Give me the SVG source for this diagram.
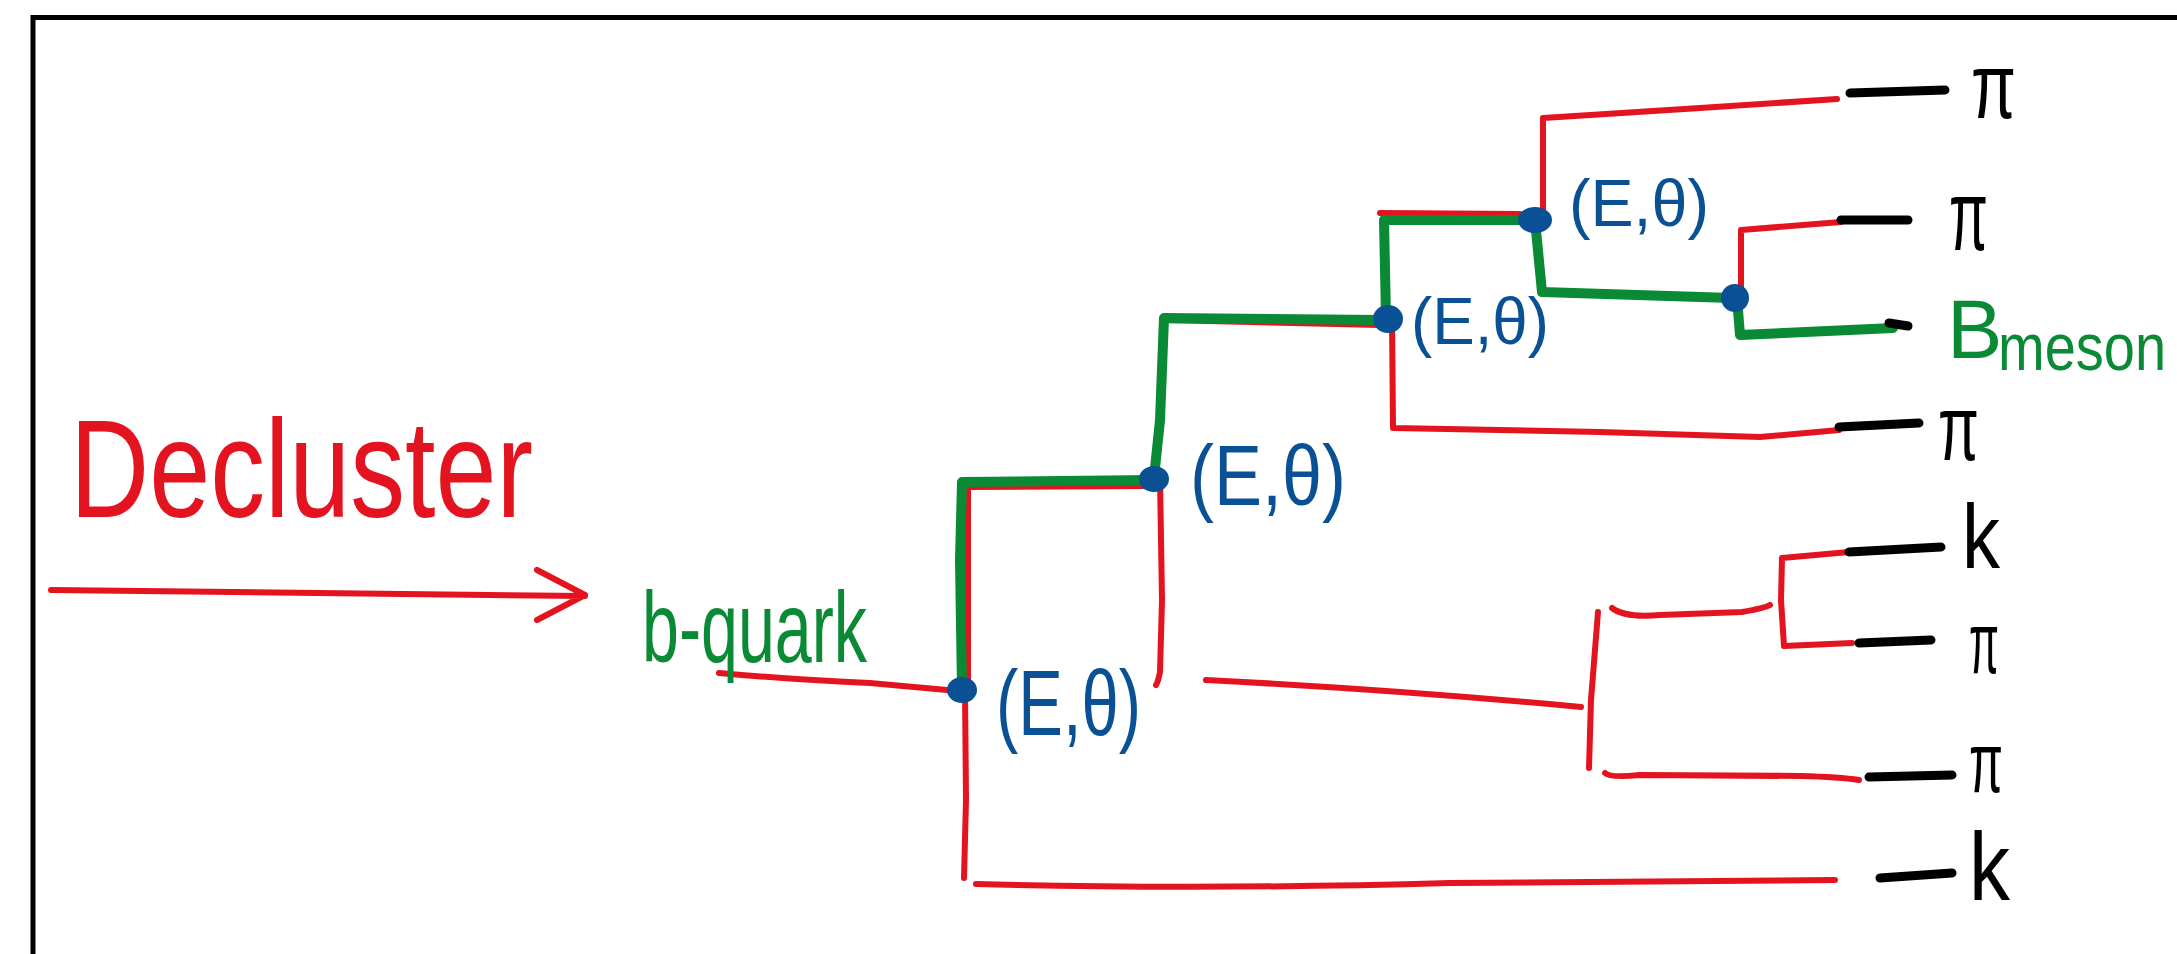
<svg xmlns="http://www.w3.org/2000/svg" width="2177" height="954" viewBox="0 0 2177 954">
<style>
.r{fill:none;stroke:#e3141f;stroke-width:6;stroke-linecap:round;stroke-linejoin:round}
.g{fill:none;stroke:#0b8a36;stroke-width:10;stroke-linecap:round;stroke-linejoin:round}
.k{fill:none;stroke:#000;stroke-width:9;stroke-linecap:round}
.dot{fill:#0a5095}
.t{font-family:"Liberation Sans",Arial,sans-serif}
.lr{fill:#e3141f}
.lg{fill:#0b8a36}
.lb{fill:#0a5095}
.lk{fill:#000}
</style>
<rect width="2177" height="954" fill="#fff"/>
<path d="M33 960 L33 17.5 L2190 17.5" fill="none" stroke="#000" stroke-width="5"/>

<g id="title">
<text class="t lr" x="70" y="517" font-size="140" textLength="463" lengthAdjust="spacingAndGlyphs">Decluster</text>
<path class="r" d="M51 590 L585 596 M537 570 L585 595 L537 620" stroke-width="7"/>
</g>

<g id="connectors">
<path class="r" d="M719 673 Q800 680 870 683 L958 691"/>
<path class="r" d="M965 690 L966 800 L964 878"/>
<path class="r" d="M976 884 Q1200 890 1450 883 L1835 880"/>
<path class="r" d="M968 690 L968 487 L1150 486"/>
<path class="r" d="M1160 478 L1162 600 L1160 672 Q1158 682 1156 685"/>
<path class="r" d="M1206 680 Q1400 690 1581 707"/>
<path class="r" d="M1598 612 L1591 700 L1589 768"/>
<path class="r" d="M1612 608 Q1625 618 1660 615 L1742 612 Q1765 608 1770 605"/>
<path class="r" d="M1849 552 L1782 558 L1781 600 L1784 646 L1852 643"/>
<path class="r" d="M1605 773 Q1610 778 1640 775 L1800 776 Q1840 777 1859 780"/>
<path class="r" d="M1392 320 L1393 428 L1600 432 L1760 437 L1839 430"/>
<path class="r" d="M1380 213 L1520 214"/>
<path class="r" d="M1543 218 L1543 118 L1700 108 L1837 99"/>
<path class="r" d="M1741 298 L1741 230 L1841 222"/>
<path class="r" d="M1165 320 L1380 325"/>
<path class="g" d="M962 690 L960 560 L962 482 L1153 480"/>
<path class="g" d="M1154 478 L1160 420 L1164 318 L1382 320"/>
<path class="g" d="M1386 318 L1384 220 L1530 220"/>
<path class="g" d="M1535 220 L1542 292 L1732 298"/>
<path class="g" d="M1737 298 L1740 335 L1893 328" stroke-width="14"/>
<path class="k" d="M1850 93 L1945 90"/>
<path class="k" d="M1841 220 L1908 220"/>
<path class="k" d="M1889 323 L1908 326"/>
<path class="k" d="M1839 427 L1919 423"/>
<path class="k" d="M1849 552 L1941 547"/>
<path class="k" d="M1859 643 L1931 640"/>
<path class="k" d="M1869 777 L1952 775"/>
<path class="k" d="M1880 878 L1952 873"/>
</g>

<g id="b-quark">
<text class="t lg" x="642" y="662" font-size="100" textLength="225" lengthAdjust="spacingAndGlyphs">b-quark</text>
</g>

<g id="node1">
<ellipse class="dot" cx="962" cy="690" rx="15" ry="13"/>
<text class="t lb" x="996" y="735" font-size="92" textLength="145" lengthAdjust="spacingAndGlyphs">(E,θ)</text>
</g>
<g id="node2">
<ellipse class="dot" cx="1154" cy="479" rx="15" ry="13"/>
<text class="t lb" x="1190" y="505" font-size="86" textLength="156" lengthAdjust="spacingAndGlyphs">(E,θ)</text>
</g>
<g id="node3">
<ellipse class="dot" cx="1388" cy="319" rx="15" ry="14"/>
<text class="t lb" x="1411" y="344" font-size="66" textLength="138" lengthAdjust="spacingAndGlyphs">(E,θ)</text>
</g>
<g id="node4">
<ellipse class="dot" cx="1535" cy="220" rx="17" ry="13"/>
<text class="t lb" x="1569" y="226" font-size="66" textLength="140" lengthAdjust="spacingAndGlyphs">(E,θ)</text>
</g>
<g id="node5">
<ellipse class="dot" cx="1735" cy="298" rx="14" ry="14"/>
</g>

<g id="leaf-pi1"><text class="t lk" x="1971" y="118" font-size="92" textLength="45" lengthAdjust="spacingAndGlyphs">π</text></g>
<g id="leaf-pi2"><text class="t lk" x="1949" y="250" font-size="100" textLength="39" lengthAdjust="spacingAndGlyphs">π</text></g>
<g id="leaf-bmeson">
<text class="t lg" x="1947" y="358" font-size="83">B</text>
<text class="t lg" transform="translate(1998,370) scale(1,1.2)" font-size="56">meson</text>
</g>
<g id="leaf-pi3"><text class="t lk" x="1938" y="460" font-size="92" textLength="41" lengthAdjust="spacingAndGlyphs">π</text></g>
<g id="leaf-k1"><text class="t lk" x="1962" y="568" font-size="90" textLength="38" lengthAdjust="spacingAndGlyphs">k</text></g>
<g id="leaf-pi4"><text class="t lk" x="1969" y="673" font-size="88" textLength="30" lengthAdjust="spacingAndGlyphs">π</text></g>
<g id="leaf-pi5"><text class="t lk" x="1969" y="792" font-size="86" textLength="34" lengthAdjust="spacingAndGlyphs">π</text></g>
<g id="leaf-k2"><text class="t lk" x="1969" y="900" font-size="96" textLength="41" lengthAdjust="spacingAndGlyphs">k</text></g>
</svg>
